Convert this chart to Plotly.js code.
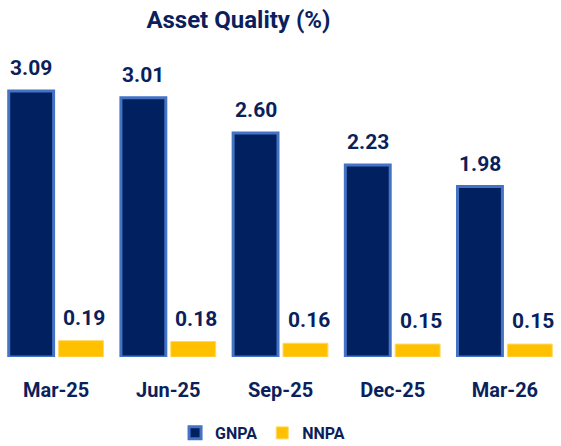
<!DOCTYPE html>
<html><head><meta charset="utf-8">
<script src="https://cdn.plot.ly/plotly-3.0.1.min.js"></script>
<style>html,body{margin:0;padding:0;background:#fff}#chart{width:561px;height:446px}</style>
</head><body><div id="chart"></div>
<script>
const categories = ["Mar-25","Jun-25","Sep-25","Dec-25","Mar-26"];
const gnpa = [3.09, 3.01, 2.60, 2.23, 1.98];
const nnpa = [0.19, 0.18, 0.16, 0.15, 0.15];
const FONT = "'Liberation Sans Narrow', 'Arial Narrow', Roboto, sans-serif";
const NAVY = "#0B1F5C";

const traces = [
  {type:"bar", name:"GNPA", x:categories, y:gnpa,
   marker:{color:"#002060", line:{color:"#4472C4", width:3}}, hoverinfo:"skip"},
  {type:"bar", name:"NNPA", x:categories, y:nnpa,
   marker:{color:"#FFC000", line:{color:"#FFD966", width:1}}, hoverinfo:"skip"}
];

const annotations = [];
categories.forEach((c,i)=>{
  annotations.push({x:c, y:gnpa[i], xref:"x", yref:"y", text:gnpa[i].toFixed(2), showarrow:false,
    xshift:-25, yshift:23, font:{family:FONT, size:21, color:NAVY, weight:"bold"}});
  annotations.push({x:c, y:nnpa[i], xref:"x", yref:"y", text:nnpa[i].toFixed(2), showarrow:false,
    xshift:28, yshift:23, font:{family:FONT, size:21, color:NAVY, weight:"bold"}});
});

const layout = {
  width:561, height:446,
  margin:{l:0, r:0, t:47, b:89, autoexpand:false},
  paper_bgcolor:"#fff", plot_bgcolor:"#fff",
  title:{text:"Asset Quality (%)", x:0.425, xanchor:"center", y:0.955, yanchor:"middle",
    font:{family:FONT, size:24, color:NAVY, weight:"bold"}},
  barmode:"group", bargap:0.111, bargroupgap:0.1,
  xaxis:{type:"category", showgrid:false, zeroline:false, showline:false, ticks:"",
    ticklabelstandoff:19, tickfont:{family:FONT, size:20, color:NAVY, weight:"bold"}},
  yaxis:{range:[0,3.6], visible:false, showgrid:false, zeroline:false},
  showlegend:true,
  legend:{orientation:"h", x:0.468, xanchor:"center", y:-0.245, yanchor:"middle",
    font:{family:FONT, size:16, color:NAVY, weight:"bold"}, itemwidth:30, tracegroupgap:0},
  annotations:annotations
};
Plotly.newPlot("chart", traces, layout, {staticPlot:true, displayModeBar:false});
</script></body></html>
